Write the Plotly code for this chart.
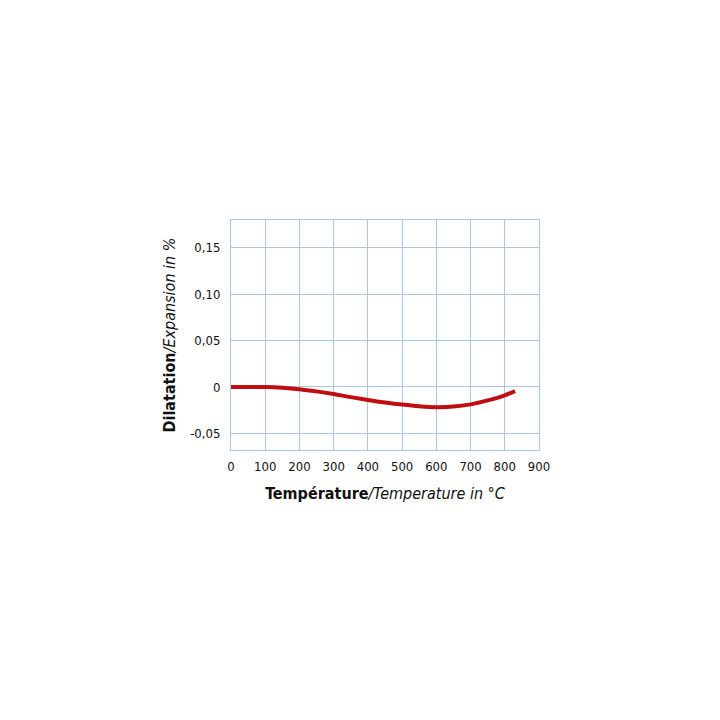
import plotly.graph_objects as go

# Temperature in °C and expansion in %
temperature = [0, 50, 100, 150, 200, 250, 300, 350, 400, 450, 500, 550, 600, 650, 700, 750, 800, 830]
expansion = [0.0, 0.0, 0.0, -0.0008, -0.0024, -0.0048, -0.0077, -0.011, -0.014, -0.0167, -0.019, -0.0208, -0.0218, -0.0212, -0.0188, -0.0145, -0.009, -0.0045]

x_ticks = [0, 100, 200, 300, 400, 500, 600, 700, 800, 900]
y_ticks = [-0.05, 0, 0.05, 0.10, 0.15]
y_tick_labels = ['-0,05', '0', '0,05', '0,10', '0,15']

font_family = 'DejaVu Sans Condensed, Liberation Sans Narrow, sans-serif'

fig = go.Figure()
fig.add_trace(go.Scatter(
    x=temperature, y=expansion, mode='lines',
    line=dict(color='#c00d12', width=4, shape='spline'),
    showlegend=False,
))

fig.update_xaxes(
    range=[0, 900], tickvals=x_ticks,
    showgrid=True, gridcolor='#a9c6e6', gridwidth=1,
    showline=True, linecolor='#a9c6e6', mirror=True,
    zeroline=False, ticks='', ticklabelstandoff=4,
    tickfont=dict(family=font_family, size=13, color='#111'),
    title=dict(text='<b>Température</b><i>/Temperature in °C</i>',
               font=dict(family=font_family, size=16, color='#111'), standoff=15),
)
fig.update_yaxes(
    range=[-0.068, 0.18], tickvals=y_ticks, ticktext=y_tick_labels,
    showgrid=True, gridcolor='#a9c6e6', gridwidth=1,
    showline=True, linecolor='#a9c6e6', mirror=True,
    zeroline=False, ticks='', ticklabelstandoff=7,
    tickfont=dict(family=font_family, size=13, color='#111'),
    title=dict(text='<b>Dilatation</b><i>/Expansion in %</i>',
               font=dict(family=font_family, size=16, color='#111'), standoff=10),
)

fig.update_layout(
    width=720, height=720,
    margin=dict(l=223, r=189, t=212, b=278),
    plot_bgcolor='white', paper_bgcolor='white',
)

fig.write_html('out.html')
